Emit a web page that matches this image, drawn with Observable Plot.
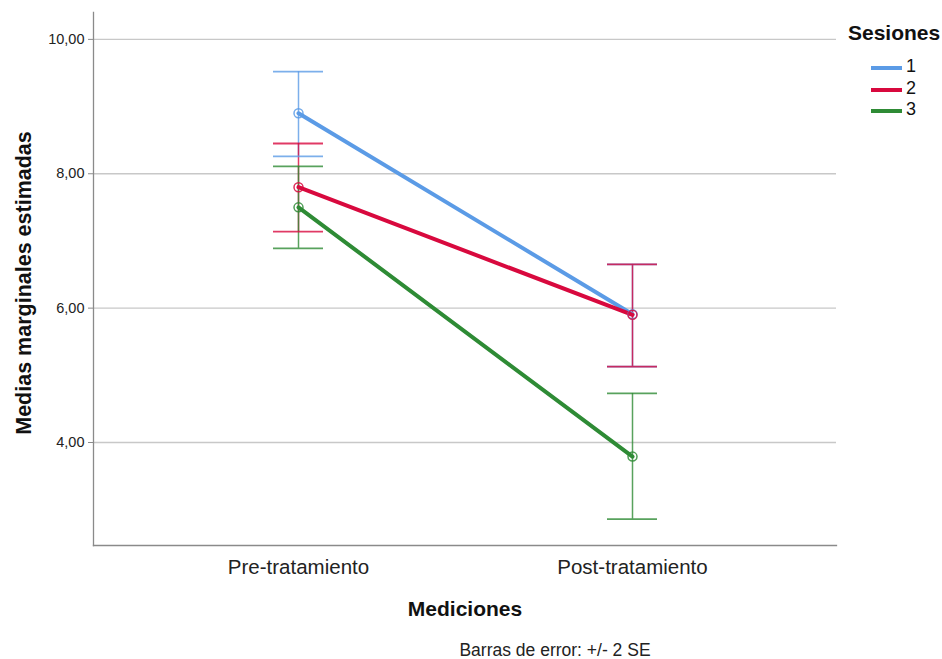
<!DOCTYPE html>
<html><head><meta charset="utf-8">
<script src="https://cdn.jsdelivr.net/npm/d3@7"></script>
<script src="https://cdn.jsdelivr.net/npm/@observablehq/plot@0.6"></script>
<style>
body{margin:0;background:#fff;font-family:"Liberation Sans",Arial,sans-serif;}
#wrap{position:relative;width:942px;height:659px;overflow:hidden;}
#legend{position:absolute;left:848px;top:21px;color:#111;}
#legend .t{font-weight:bold;font-size:21px;white-space:nowrap;}
#legend .row{position:relative;height:21.5px;font-size:18px;}
#legend .sw{position:absolute;left:23px;top:9px;width:31px;height:4px;}
#legend .lb{position:absolute;left:58px;top:-1px;}
#caption{position:absolute;left:0;width:1110px;text-align:center;top:640px;font-size:17.5px;color:#222;}
</style></head>
<body><div id="wrap"><div id="chart"></div><div id="legend"></div><div id="caption">Barras de error: +/- 2 SE</div></div>
<script>
const mediciones = ["Pre-tratamiento", "Post-tratamiento"];
const sesiones = ["1", "2", "3"];
const colores = ["#5B9BE6", "#D8093E", "#2E8B35"];
const medias = { "1": [8.90, 5.91], "2": [7.80, 5.90], "3": [7.50, 3.79] };
const errSup = { "1": [9.52, 6.65], "2": [8.45, 6.65], "3": [8.11, 4.73] };
const errInf = { "1": [8.26, 5.13], "2": [7.14, 5.13], "3": [6.89, 2.86] };
const yTicks = [4, 6, 8, 10];

const data = [];
sesiones.forEach(s => mediciones.forEach((m, i) => data.push({
  sesion: s, medicion: m, media: medias[s][i], sup: errSup[s][i], inf: errInf[s][i]
})));

const fmt = d => d.toFixed(2).replace(".", ",");
const color = {domain: sesiones, range: colores};

const chart = Plot.plot({
  width: 942, height: 630,
  marginLeft: 93, marginRight: 106, marginTop: 12, marginBottom: 85,
  style: {fontFamily: '"Liberation Sans", Arial, sans-serif', background: "#fff", color: "#222"},
  x: {type: "band", domain: mediciones, paddingInner: 0.851, paddingOuter: 0.5345, label: null},
  y: {domain: [2.467, 10.40], label: null},
  color,
  marks: [
    Plot.ruleY(yTicks, {stroke: "#c8c8c8", strokeWidth: 1.3}),
    Plot.frame({anchor: "left", stroke: "#8a8a8a", strokeWidth: 1.3}),
    Plot.frame({anchor: "bottom", stroke: "#8a8a8a", strokeWidth: 1.3}),
    Plot.axisY(yTicks, {tickFormat: fmt, tickSize: 5, tickPadding: 4, fontSize: 14.5, stroke: "#8a8a8a", label: null}),
    Plot.axisX({tickSize: 0, tickPadding: 14, fontSize: 20.5, label: null}),
    Plot.text(["Medias marginales estimadas"], {frameAnchor: "left", textAnchor: "middle", dx: -69, dy: 4, rotate: -90, fontSize: 21.5, fontWeight: "bold", fill: "#111"}),
    Plot.text(["Mediciones"], {frameAnchor: "bottom", dy: 70, fontSize: 21, fontWeight: "bold", fill: "#111"}),
    Plot.ruleX(data, {x: "medicion", y1: "inf", y2: "sup", stroke: "sesion", strokeWidth: 1.5, strokeOpacity: 0.8}),
    Plot.tickY(data, {x: "medicion", y: "sup", stroke: "sesion", strokeWidth: 1.8, strokeOpacity: 0.8}),
    Plot.tickY(data, {x: "medicion", y: "inf", stroke: "sesion", strokeWidth: 1.8, strokeOpacity: 0.8}),
    Plot.line(data, {x: "medicion", y: "media", z: "sesion", stroke: "sesion", strokeWidth: 4}),
    Plot.dot(data, {x: "medicion", y: "media", stroke: "sesion", r: 4.5, strokeWidth: 1.5, fill: "none", strokeOpacity: 0.85})
  ]
});
document.getElementById("chart").appendChild(chart);

const leg = document.getElementById("legend");
leg.innerHTML = '<div class="t">Sesiones</div>' + sesiones.map((s, i) =>
  `<div class="row"><div class="sw" style="background:${colores[i]}"></div><div class="lb">${s}</div></div>`).join("");
leg.querySelector(".t").style.marginBottom = "12px";
</script></body></html>
